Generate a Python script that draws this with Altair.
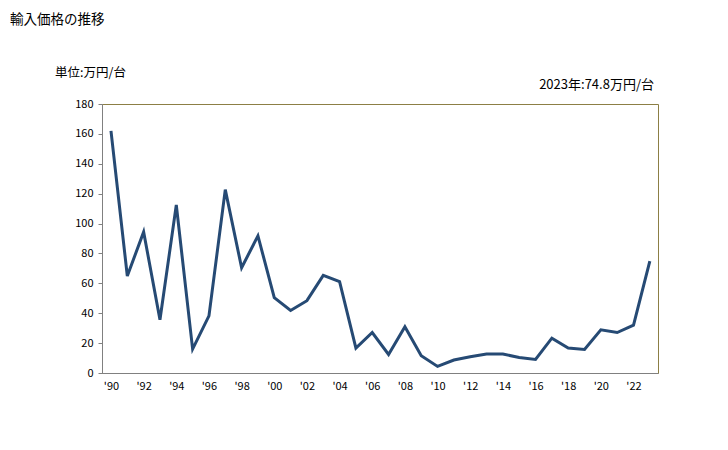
import altair as alt
import pandas as pd

years = list(range(1990, 2024))
values = [162.0, 64.9, 94.4, 35.6, 112.4, 16.0, 38.2, 122.7, 70.4, 91.8,
          50.4, 41.8, 48.4, 65.3, 61.1, 16.7, 27.1, 12.4, 30.9, 11.6,
          4.4, 8.7, 10.9, 12.7, 12.7, 10.4, 9.1, 23.3, 16.7, 15.8,
          28.9, 27.1, 32.0, 74.8]
x_ticks = list(range(1990, 2024, 2))
y_ticks = [0, 20, 40, 60, 80, 100, 120, 140, 160, 180]

title_text = "輸入価格の推移"
unit_text = "単位:万円/台"
latest_text = "2023年:74.8万円/台"

df = pd.DataFrame({"year": years, "value": values})
FONT = "Noto Sans CJK JP"

line = alt.Chart(df).mark_line(color="#264a74", strokeWidth=3, strokeJoin="miter").encode(
    x=alt.X("year:Q",
            scale=alt.Scale(domain=[1989.45, 2023.5], nice=False, zero=False),
            axis=alt.Axis(values=x_ticks, labelExpr="\"'\" + substring(toString(datum.value), 2, 4)",
                          title=None, grid=False, ticks=False, domainColor="#808080",
                          labelFont=FONT, labelFontSize=11, labelColor="#000000",
                          labelPadding=7, labelFlush=False)),
    y=alt.Y("value:Q",
            scale=alt.Scale(domain=[0, 180], nice=False),
            axis=alt.Axis(values=y_ticks, title=None, grid=False, tickSize=4,
                          tickColor="#808080", domainColor="#808080",
                          labelFont=FONT, labelFontSize=11, labelColor="#000000",
                          labelPadding=5)),
)

ann = pd.DataFrame({"t": [title_text, unit_text, latest_text]})
t1 = alt.Chart(ann.iloc[[0]]).mark_text(align="left", baseline="middle", font=FONT,
                                        fontSize=13.5, color="#000000").encode(
    text="t:N", x=alt.value(-92), y=alt.value(-84))
t2 = alt.Chart(ann.iloc[[1]]).mark_text(align="left", baseline="middle", font=FONT,
                                        fontSize=12.5, color="#000000").encode(
    text="t:N", x=alt.value(-47), y=alt.value(-31))
t3 = alt.Chart(ann.iloc[[2]]).mark_text(align="right", baseline="middle", font=FONT,
                                        fontSize=13, color="#000000").encode(
    text="t:N", x=alt.value(552), y=alt.value(-19))

chart = alt.layer(line, t1, t2, t3).properties(
    width=556, height=269,
    background="#ffffff",
    autosize=alt.AutoSizeParams(type="none"),
    padding={"left": 94, "top": 96, "right": 62, "bottom": 60},
).configure_view(stroke="#8c7f45", strokeWidth=1)

chart.save("out.html", embed_options={"renderer": "svg", "actions": False})
